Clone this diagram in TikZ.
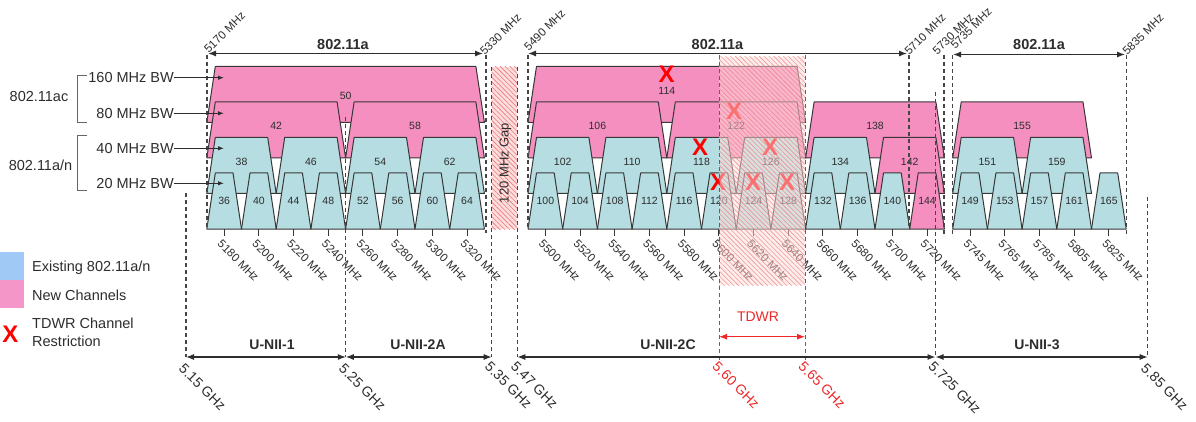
\documentclass[tikz,border=0pt]{standalone}
\usepackage{fontspec}
\setmainfont{Liberation Sans}
\usetikzlibrary{patterns,patterns.meta,arrows.meta}
\definecolor{chblue}{RGB}{182,222,226}
\definecolor{chpink}{RGB}{245,143,192}
\definecolor{lgblue}{RGB}{160,202,245}
\definecolor{lgpink}{RGB}{245,150,200}
\definecolor{edgec}{RGB}{55,55,55}
\definecolor{dashc}{RGB}{70,70,70}
\definecolor{tdwrc}{RGB}{238,40,40}
\definecolor{txtc}{RGB}{45,45,45}
\definecolor{hatchbg}{RGB}{252,222,222}
\definecolor{hatchln}{RGB}{240,120,120}
\newcommand\fsz[1]{\fontsize{#1}{#1}\selectfont}
\tikzset{
  trapz/.style={draw=edgec, line width=1pt, line join=round},
  chnum/.style={font=\fsz{10.5}, text=txtc, inner sep=0pt},
  freqlab/.style={font=\fsz{11.5}, text=txtc, inner sep=0pt, rotate=-45, anchor=west},
  toplab/.style={font=\fsz{11.5}, text=txtc, inner sep=0pt, rotate=45, anchor=west},
  ghzlab/.style={font=\fsz{14}, text=txtc, inner sep=0pt, rotate=-45, anchor=west},
  ticks/.style={draw=edgec, line width=1pt},
  vline/.style={draw=dashc, line width=1.1pt, dash pattern=on 4pt off 3pt},
  rline/.style={draw=tdwrc, line width=1pt, dash pattern=on 4pt off 3pt},
  dimarrow/.style={draw=txtc, line width=1.1pt, <->, >={Latex[length=8pt,width=6pt]}},
  bwarrow/.style={draw=txtc, line width=1pt, ->, >={Latex[length=6pt,width=4.5pt]}},
  bold/.style={font=\fsz{14.5}\bfseries, text=txtc, inner sep=0pt},
  plain/.style={font=\fsz{14.5}, text=txtc, inner sep=0pt},
  redx/.style={font=\fsz{24}\bfseries, text=red, inner sep=0pt},
  hatchfill/.style={pattern={Lines[angle=-45,distance=3.4pt,line width=0.6pt]}, pattern color=hatchln},
}
\newcommand\chan[6][0]{%
  \pgfmathsetmacro\xa{#2}%
  \pgfmathsetmacro\xb{#2+#3*34.7}%
  \pgfmathsetmacro\yb{229-35.5*#4}%
  \pgfmathsetmacro\yt{\yb-56}%
  \pgfmathsetmacro\xm{(\xa+\xb)/2}%
  \ifcase#4 \def\yl{201}\or\def\yl{162}\or\def\yl{126}\or\def\yl{96}\fi
  \filldraw[trapz,fill=#5] (\xa,\yb) -- (\xa+8.5,\yt) -- (\xb-8.5,\yt) -- (\xb,\yb) -- cycle;
  \node[chnum] (ch#6) at (\xm,\yl+#1) {#6};
}
\begin{document}
\begin{tikzpicture}[x=1pt,y=-1pt]
\useasboundingbox (0,0) rectangle (1196,422);
\fill[white] (0,0) rectangle (1196,422);

% ---- 160 MHz
\chan{206.8}{8}{3}{chpink}{50}
\chan[-5]{528}{8}{3}{chpink}{114}
% ---- 80 MHz
\foreach \x/\n in {206.8/42,345.6/58,528/106,666.8/122,805.6/138,952.7/155}
  {\chan{\x}{4}{2}{chpink}{\n}}
% ---- 40 MHz
\foreach \x/\n in {206.8/38,276.2/46,345.6/54,415/62,528/102,597.4/110,666.8/118,736.2/126,805.6/134,952.7/151,1022.1/159}
  {\chan{\x}{2}{1}{chblue}{\n}}
\chan{875}{2}{1}{chpink}{142}
% ---- 20 MHz
\foreach \k/\n in {0/36,1/40,2/44,3/48,4/52,5/56,6/60,7/64}
  {\chan{206.8+\k*34.7}{1}{0}{chblue}{\n}}
\foreach \k/\n in {0/100,1/104,2/108,3/112,4/116,5/120,6/124,7/128,8/132,9/136,10/140}
  {\chan{528+\k*34.7}{1}{0}{chblue}{\n}}
\chan{909.7}{1}{0}{chpink}{144}
\foreach \k/\n in {0/149,1/153,2/157,3/161,4/165}
  {\chan{952.7+\k*34.7}{1}{0}{chblue}{\n}}

% ---- ticks and frequency labels
\foreach \k/\f in {0/5180,1/5200,2/5220,3/5240,4/5260,5/5280,6/5300,7/5320}{
  \pgfmathsetmacro\xm{224.15+\k*34.7}
  \draw[ticks] (\xm,229) -- (\xm,236);
  \node[freqlab] (f\f) at (\xm-4.5,242) {\f\ MHz};}
\foreach \k/\f in {0/5500,1/5520,2/5540,3/5560,4/5580,5/5600,6/5620,7/5640,8/5660,9/5680,10/5700,11/5720}{
  \pgfmathsetmacro\xm{545.35+\k*34.7}
  \draw[ticks] (\xm,229) -- (\xm,236);
  \node[freqlab] (f\f) at (\xm-4.5,242) {\f\ MHz};}
\foreach \k/\f in {0/5745,1/5765,2/5785,3/5805,4/5825}{
  \pgfmathsetmacro\xm{970.05+\k*34.7}
  \draw[ticks] (\xm,229) -- (\xm,236);
  \node[freqlab] (f\f) at (\xm-4.5,242) {\f\ MHz};}

% ---- 120 MHz gap
\fill[hatchbg] (491.7,67) rectangle (517.3,229);
\fill[hatchfill] (491.7,67) rectangle (517.3,229);
\node[font=\fsz{13}, text=txtc, rotate=90, inner sep=0pt] (gap) at (505.5,163) {120 MHz Gap};

% ---- dashed reference lines
\foreach \x/\ya/\yb in {207/55/229, 486/55/233, 528/55/229, 909/55/226, 944/55/237, 952.7/55/237, 1126.5/55/237,
   186/193/357, 345.8/117/357, 491.7/67/357, 517.3/67/357, 935.5/92/357, 1147.7/197/357}
  \draw[vline] (\x,\ya) -- (\x,\yb);

% ---- red X marks
\node[redx] (x114) at (666.7,74) {X};
\node[redx] (x118) at (700,147) {X};
\node[redx] (x120) at (718,182) {X};
\node[redx] (x122) at (734,111) {X};
\node[redx] (x126) at (770,147) {X};
\node[redx] (x124) at (753,182) {X};
\node[redx] (x128) at (787,182) {X};

% ---- TDWR overlay
\fill[hatchbg, opacity=0.5] (719,57) rectangle (805,285);
\fill[hatchfill, opacity=0.75] (719,57) rectangle (805,285);
\draw[rline] (719,55) -- (719,360);
\draw[rline] (805,55) -- (805,360);

% ---- top labels and 802.11a arrows
\node[toplab] (t5170) at (206,51) {5170 MHz};
\node[toplab] (t5330) at (482,53) {5330 MHz};
\node[toplab] (t5490) at (526,48.5) {5490 MHz};
\node[toplab] (t5710) at (906.5,53) {5710 MHz};
\node[toplab] (t5730) at (934.5,52.5) {5730 MHz};
\node[toplab] (t5735) at (952.5,47) {5735 MHz};
\node[toplab] (t5835) at (1124.5,53) {5835 MHz};
\coordinate (a1l) at (208,53.5); \coordinate (a1r) at (483,53.5);
\coordinate (a2l) at (528,53.5); \coordinate (a2r) at (907,53.5);
\coordinate (a3l) at (953,54.5); \coordinate (a3r) at (1125,54.5);
\draw[dimarrow] (a1l) -- (a1r);
\draw[dimarrow] (a2l) -- (a2r);
\draw[dimarrow] (a3l) -- (a3r);
\node[bold] (w1) at (343,45) {802.11a};
\node[bold] (w2) at (717.5,45) {802.11a};
\node[bold] (w3) at (1039,45) {802.11a};

% ---- bandwidth labels
\node[plain, anchor=east] (bw160) at (174,77.7) {160 MHz BW};
\node[plain, anchor=east] (bw80) at (174,113.3) {80 MHz BW};
\node[plain, anchor=east] (bw40) at (174,148.3) {40 MHz BW};
\node[plain, anchor=east] (bw20) at (174,183.3) {20 MHz BW};
\coordinate (e160) at (224,77.7);
\coordinate (e80) at (224,113.3);
\coordinate (e40) at (224,148.3);
\coordinate (e20) at (224,183.3);
\draw[bwarrow] (bw160.east) -- (e160);
\draw[bwarrow] (bw80.east) -- (e80);
\draw[bwarrow] (bw40.east) -- (e40);
\draw[bwarrow] (bw20.east) -- (e20);
\draw[draw=black!60, line width=1pt] (87,76) -- (77.7,76) -- (77.7,122.7) -- (87,122.7);
\draw[draw=black!60, line width=1pt] (87,136) -- (77.7,136) -- (77.7,190.7) -- (87,190.7);
\node[plain] (ac) at (39,97) {802.11ac};
\node[plain] (an) at (40.5,165) {802.11a/n};

% ---- legend
\fill[lgblue] (0,252) rectangle (24,280);
\fill[lgpink] (0,280) rectangle (24,308);
\node[plain, anchor=west] (lg1) at (32,267.5) {Existing 802.11a/n};
\node[plain, anchor=west] (lg2) at (32,295) {New Channels};
\node[redx] (lgx) at (10.5,334) {X};
\node[plain, anchor=west, align=left] (lg3) at (32,332.5) {TDWR Channel\\[3pt]Restriction};

% ---- U-NII bands
\coordinate (g515) at (186,357);  \coordinate (g525) at (345.8,357);
\coordinate (g535) at (491.7,357); \coordinate (g547) at (517.3,357);
\coordinate (g5725) at (935.5,357); \coordinate (g585) at (1147.7,357);
\draw[dimarrow] (g515) -- (g525);
\draw[dimarrow] (g525) -- (g535);
\draw[dimarrow] (g547) -- (g5725);
\draw[dimarrow] (g5725) -- (g585);
\node[bold, font=\fsz{14}\bfseries] (u1) at (272,345) {U-NII-1};
\node[bold, font=\fsz{14}\bfseries] (u2a) at (418,345) {U-NII-2A};
\node[bold, font=\fsz{14}\bfseries] (u2c) at (668,345) {U-NII-2C};
\node[bold, font=\fsz{14}\bfseries] (u3) at (1037,345) {U-NII-3};
\node[ghzlab] (h515) at (181.5,366) {5.15 GHz};
\node[ghzlab] (h525) at (341.5,366) {5.25 GHz};
\node[ghzlab] (h535) at (487.5,364) {5.35 GHz};
\node[ghzlab] (h547) at (513.5,364) {5.47 GHz};
\node[ghzlab, text=tdwrc] (h560) at (715,364) {5.60 GHz};
\node[ghzlab, text=tdwrc] (h565) at (801,364) {5.65 GHz};
\node[ghzlab] (h5725) at (931,364) {5.725 GHz};
\node[ghzlab] (h585) at (1143.5,366) {5.85 GHz};

% ---- TDWR
\coordinate (tl) at (719,336.7); \coordinate (tr) at (805,336.7);
\draw[dimarrow, draw=tdwrc] (tl) -- (tr);
\node[font=\fsz{14}, text=tdwrc, inner sep=0pt] (tdwr) at (758,316.7) {TDWR};
\end{tikzpicture}
\end{document}
